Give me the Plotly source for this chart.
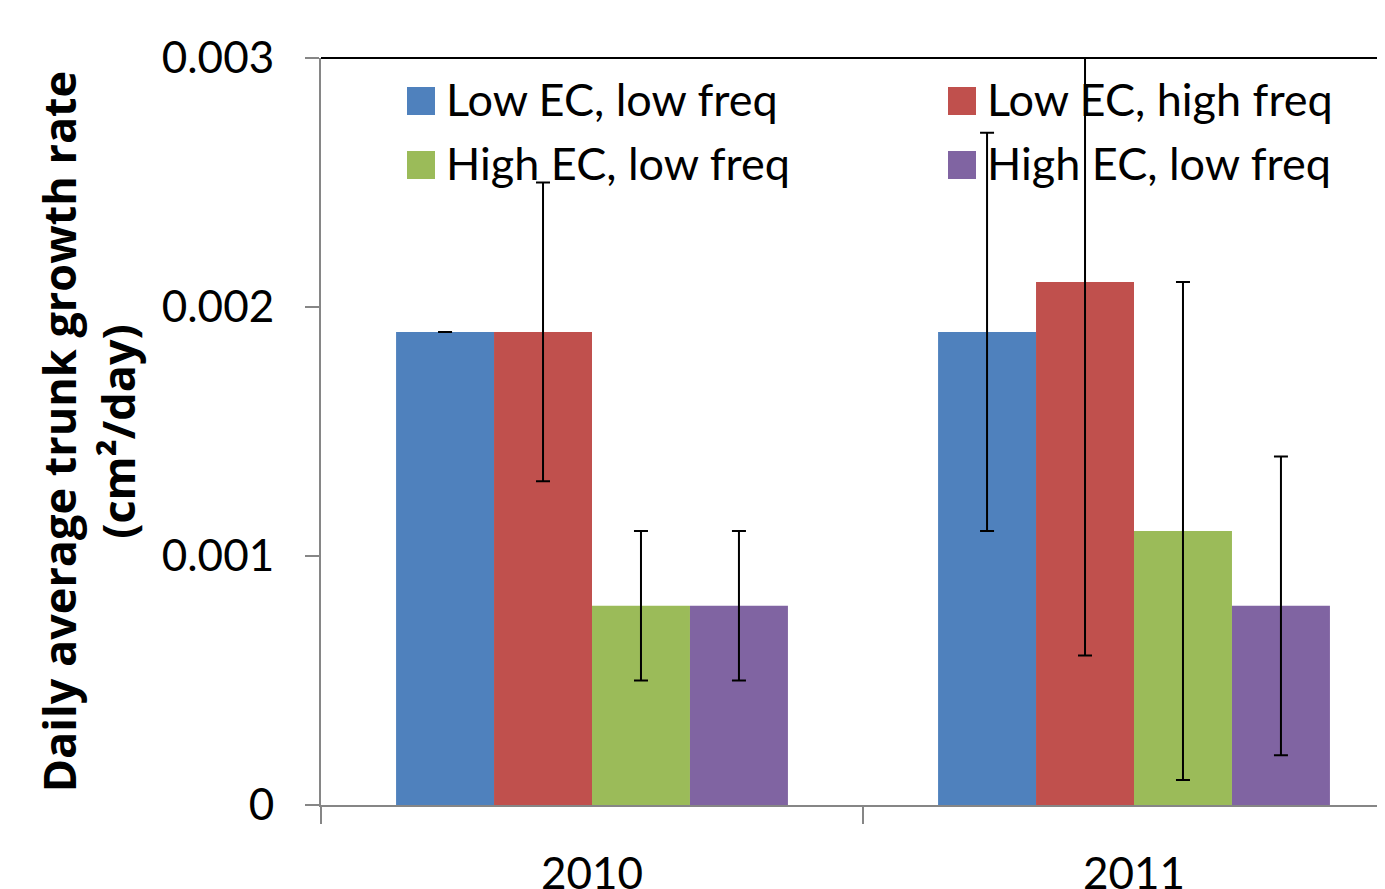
import plotly.graph_objects as go

# ---- data ----
years = ["2010", "2011"]
series_names = ["Low EC, low freq", "Low EC, high freq", "High EC, low freq", "High EC, low freq"]
series_colors = ["#4F81BD", "#C0504D", "#9BBB59", "#8064A2"]
low_ec_low_freq = [0.0019, 0.0019]
low_ec_high_freq = [0.0019, 0.0021]
high_ec_low_freq = [0.0008, 0.0011]
high_ec_low_freq_b = [0.0008, 0.0008]
err_low_ec_low_freq = [0.0, 0.0008]
err_low_ec_high_freq = [0.0006, 0.0015]
err_high_ec_low_freq = [0.0003, 0.0010]
err_high_ec_low_freq_b = [0.0003, 0.0006]
y_tick_vals = [0, 0.001, 0.002, 0.003]
y_tick_labels = ["0", "0.001", "0.002", "0.003"]

values = [low_ec_low_freq, low_ec_high_freq, high_ec_low_freq, high_ec_low_freq_b]
errors = [err_low_ec_low_freq, err_low_ec_high_freq, err_high_ec_low_freq, err_high_ec_low_freq_b]

# ---- layout constants (page has an 8px body margin) ----
OFF = 8
W, H = 1385, 889 - OFF
ML, MR, MT, MB = 321 - OFF, 0, 58 - OFF, 84
PW, PH = W - ML - MR, H - MT - MB
FONT = "Lato"
AXIS_GRAY = "#868686"

def px_to_paper_x(px):  # px in page coordinates
    return (px - OFF - ML) / PW

def px_to_paper_y(py):
    return (H - MB - (py - OFF)) / PH

fig = go.Figure()
for name, vals, errs, col in zip(series_names, values, errors, series_colors):
    fig.add_trace(go.Bar(
        x=years, y=vals, name=name,
        marker=dict(color=col, line=dict(width=0)),
        error_y=dict(type="data", array=errs, visible=True,
                     color="black", thickness=2, width=7),
        showlegend=False,
    ))

# custom legend (large swatches like the original)
shapes = []
annotations = []
for i, (name, col) in enumerate(zip(series_names, series_colors)):
    c, r = i % 2, i // 2
    sx0 = 407 + c * 541
    sy0 = 87 + r * 64
    shapes.append(dict(type="rect", xref="paper", yref="paper",
                       x0=px_to_paper_x(sx0), x1=px_to_paper_x(sx0 + 28),
                       y0=px_to_paper_y(sy0), y1=px_to_paper_y(sy0 + 28),
                       fillcolor=col, line=dict(width=0), layer="above"))
    annotations.append(dict(xref="paper", yref="paper",
                            x=px_to_paper_x(sx0 + 37), y=px_to_paper_y(sy0 + 12),
                            xanchor="left", yanchor="middle", showarrow=False,
                            text=name, font=dict(family=FONT, size=45, color="black")))

# top frame line
shapes.append(dict(type="line", xref="paper", yref="paper", x0=0, x1=1, y0=1, y1=1,
                   line=dict(color="black", width=2)))

fig.update_layout(
    width=W, height=H,
    margin=dict(l=ML, r=MR, t=MT, b=MB, autoexpand=False),
    paper_bgcolor="white", plot_bgcolor="white",
    barmode="group", bargap=0.277, bargroupgap=0,
    font=dict(family=FONT, size=44, color="black"),
    shapes=shapes, annotations=annotations,
    showlegend=False,
)
fig.update_xaxes(
    type="category", range=[-0.5, -0.5 + PW / 542],
    showline=True, linecolor=AXIS_GRAY, linewidth=2,
    ticks="outside", tickson="boundaries", ticklen=17, tickcolor=AXIS_GRAY, tickwidth=2,
    tickfont=dict(family=FONT, size=44, color="black"), ticklabelstandoff=29,
    showgrid=False, zeroline=False, automargin=False,
)
fig.update_yaxes(
    range=[0, 0.003], tickvals=y_tick_vals, ticktext=y_tick_labels,
    showline=True, linecolor=AXIS_GRAY, linewidth=2,
    ticks="outside", ticklen=14, tickcolor=AXIS_GRAY, tickwidth=2,
    tickfont=dict(family=FONT, size=44, color="black"), ticklabelstandoff=22,
    showgrid=False, zeroline=False, automargin=False,
    title=dict(text="<b>Daily average trunk growth rate<br>(cm²/day)</b>",
               font=dict(family="Open Sans", size=45, color="black"), standoff=12),
)

fig.write_html("out.html")
